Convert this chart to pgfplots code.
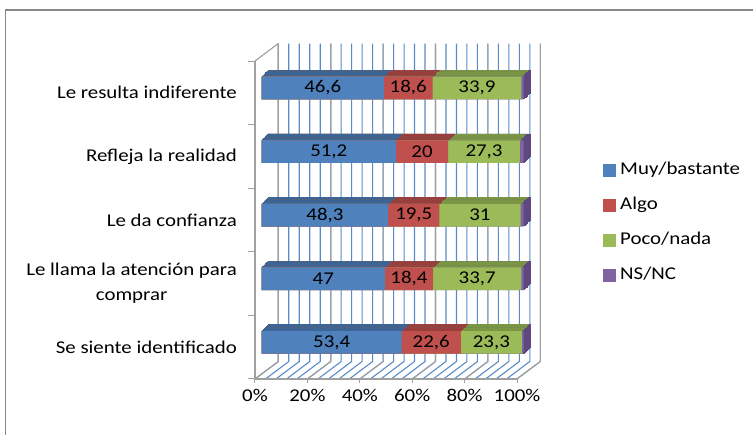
\documentclass[border=0pt]{standalone}
\usepackage{fontspec}
\setmainfont{Carlito}[FakeStretch=1.16]
\usepackage{pgfplots}
\usepackage{pgfplotstable}
\pgfplotsset{compat=1.18}

% series colours (front faces) and their shaded top/side faces
\definecolor{cMuy}{HTML}{4F81BD}
\definecolor{cAlgo}{HTML}{C0504D}
\definecolor{cPoco}{HTML}{9BBB59}
\definecolor{cNsnc}{HTML}{8064A2}
\definecolor{dMuy}{HTML}{3C6596}
\definecolor{dAlgo}{HTML}{983E3C}
\definecolor{dPoco}{HTML}{7A9544}
\definecolor{dNsnc}{HTML}{5E4880}
\definecolor{gridblue}{HTML}{5A8AC6}
\definecolor{axgray}{HTML}{A0A0A0}
\definecolor{frame}{HTML}{878787}

% percentages per statement (rows: 0 = bottom, 4 = top)
\pgfplotstableread{
cat muy  algo poco nsnc
4   46.6 18.6 33.9 0.9
3   51.2 20   27.3 1.5
2   48.3 19.5 31   1.2
1   47   18.4 33.7 0.9
0   53.4 22.6 23.3 0.7
}\encuesta

\pgfplotsset{
  segbar/.style={xbar, bar width=22.6pt, bar shift=0pt, draw=none, fill=#1, forget plot},
  depthbar/.style={xbar, bar width=22.6pt, bar shift=0pt, draw=#1, line width=0.6pt, fill=#1, forget plot},
  legsq/.style={legend image code/.code={\fill[#1] (0pt,-5.8pt) rectangle (11.6pt,5.8pt);}},
  seglabel/.style={forget plot, draw=none, mark=none, xshift=6.7pt, yshift=4.8pt,
    nodes near coords, point meta=explicit,
    nodes near coords style={anchor=center, text=black, inner sep=0pt},
    /pgf/number format/.cd, fixed, precision=1, use comma},
}

\begin{document}
\fontsize{18pt}{25pt}\selectfont
\begin{tikzpicture}[font=\fontsize{18pt}{25pt}\selectfont]
\useasboundingbox (0,0) rectangle (753pt,-435pt);
\draw[frame, line width=1.5pt] (5.5pt,-10pt) rectangle (790pt,-480pt);
\begin{axis}[
  at={(255pt,-379pt)}, anchor=south west,
  scale only axis, width=262pt, height=318pt,
  xmin=0, xmax=100, ymin=-0.5, ymax=4.5,
  clip=false,
  axis line style={draw=none},
  tick pos=left,
  tick align=outside,
  major tick length=4pt,
  xtick={0,20,...,100},
  xticklabel={\pgfmathprintnumber{\tick}\%},
  xtick style={draw=axgray, line width=1pt},
  ytick={0,1,2,3,4},
  yticklabels={Se siente identificado, {Le llama la atención para\\comprar}, Le da confianza, Refleja la realidad, Le resulta indiferente},
  yticklabel style={align=center, xshift=-8pt},
  ytick style={draw=none},
  /pgf/number format/assume math mode=true,
  legend style={at={(1.3282,0.4906)}, anchor=west, draw=none, fill=none,
    inner sep=0pt, row sep=18pt, column sep=5pt,
    nodes={inner sep=0pt, text height=13pt, text depth=4pt}},
  legend cell align=left,
]
% back wall and floor grid: minor lines every 4 %, major every 20 %
\pgfplotsinvokeforeach{0,4,...,100}{
  \draw[gridblue, line width=1.1pt] (axis cs:#1,-0.5)
    -- ([shift={(23.3pt,17.5pt)}]axis cs:#1,-0.5)
    -- ([shift={(23.3pt,17.5pt)}]axis cs:#1,4.5);
}
\pgfplotsinvokeforeach{0,20,...,100}{
  \draw[axgray, line width=1.1pt] (axis cs:#1,-0.5)
    -- ([shift={(23.3pt,17.5pt)}]axis cs:#1,-0.5)
    -- ([shift={(23.3pt,17.5pt)}]axis cs:#1,4.5);
}
% side wall edges and front axis lines
\draw[axgray, line width=1.1pt] (axis cs:0,4.5) -- ([shift={(23.3pt,17.5pt)}]axis cs:0,4.5);
\draw[axgray, line width=1.1pt] (axis cs:0,4.5) -- (axis cs:0,-0.5) -- (axis cs:100,-0.5);
\pgfplotsinvokeforeach{-0.5,0.5,...,4.5}{
  \draw[axgray, line width=1pt] (axis cs:0,#1) -- ++(-7pt,0pt);
}

% depth of the bars: shaded copies stepped back towards the wall
\pgfplotsinvokeforeach{8,7,...,1}{
  \addplot[depthbar=dNsnc, xshift={6.7pt+#1*0.8pt}, yshift={4.8pt+#1*0.8pt}]
    table[y=cat, x expr=\thisrow{muy}+\thisrow{algo}+\thisrow{poco}+\thisrow{nsnc}] {\encuesta};
  \addplot[depthbar=dPoco, xshift={6.7pt+#1*0.8pt}, yshift={4.8pt+#1*0.8pt}]
    table[y=cat, x expr=\thisrow{muy}+\thisrow{algo}+\thisrow{poco}] {\encuesta};
  \addplot[depthbar=dAlgo, xshift={6.7pt+#1*0.8pt}, yshift={4.8pt+#1*0.8pt}]
    table[y=cat, x expr=\thisrow{muy}+\thisrow{algo}] {\encuesta};
  \addplot[depthbar=dMuy, xshift={6.7pt+#1*0.8pt}, yshift={4.8pt+#1*0.8pt}]
    table[y=cat, x=muy] {\encuesta};
}
% front faces of the stacked segments
\addplot[segbar=cNsnc, xshift=6.7pt, yshift=4.8pt]
  table[y=cat, x expr=\thisrow{muy}+\thisrow{algo}+\thisrow{poco}+\thisrow{nsnc}] {\encuesta};
\addplot[segbar=cPoco, xshift=6.7pt, yshift=4.8pt]
  table[y=cat, x expr=\thisrow{muy}+\thisrow{algo}+\thisrow{poco}] {\encuesta};
\addplot[segbar=cAlgo, xshift=6.7pt, yshift=4.8pt]
  table[y=cat, x expr=\thisrow{muy}+\thisrow{algo}] {\encuesta};
\addplot[segbar=cMuy, xshift=6.7pt, yshift=4.8pt]
  table[y=cat, x=muy] {\encuesta};

% value labels centred on each segment
\addplot[seglabel] table[y=cat, x expr=\thisrow{muy}/2, meta=muy] {\encuesta};
\addplot[seglabel] table[y=cat, x expr=\thisrow{muy}+\thisrow{algo}/2, meta=algo] {\encuesta};
\addplot[seglabel] table[y=cat, x expr=\thisrow{muy}+\thisrow{algo}+\thisrow{poco}/2, meta=poco] {\encuesta};

\addlegendimage{legsq=cMuy}\addlegendentry{Muy/bastante}
\addlegendimage{legsq=cAlgo}\addlegendentry{Algo}
\addlegendimage{legsq=cPoco}\addlegendentry{Poco/nada}
\addlegendimage{legsq=cNsnc}\addlegendentry{NS/NC}
\end{axis}
\end{tikzpicture}
\end{document}
